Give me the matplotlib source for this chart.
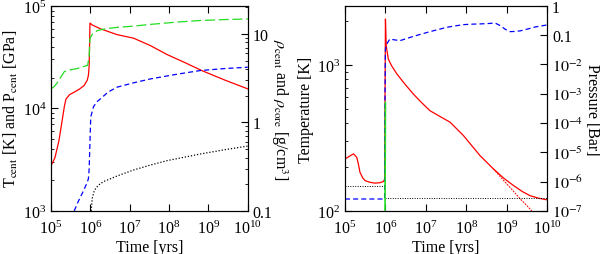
import numpy as np
import matplotlib.pyplot as plt
from matplotlib.ticker import LogFormatterMathtext, FixedLocator, FixedFormatter

plt.rcParams['font.family'] = ['Liberation Serif', 'DejaVu Serif']
plt.rcParams['mathtext.fontset'] = 'stix'
plt.rcParams['font.size'] = 11.5

# ---- left panel: central values (log10 of time in yrs) ----
lt_tc = [5.0, 5.1, 5.2, 5.29, 5.34, 5.38, 5.47, 5.59, 5.72, 5.84, 5.92, 5.95, 5.97, 5.99,
         6.05, 6.26, 6.68, 7.1, 7.53, 7.95, 8.4, 8.83, 9.4, 10.0]
t_cent = [2750, 3300, 4800, 7900, 10500, 12300, 13600, 14400, 15400, 16700, 18800, 21000, 26000, 68000,
          65000, 59700, 52400, 48400, 40900, 33500, 28000, 23400, 19000, 15500]

lt_pc = [5.0, 5.08, 5.17, 5.26, 5.34, 5.5, 5.67, 5.8, 5.93, 5.97, 5.99, 6.05, 6.18, 6.4, 6.68,
         7.1, 7.53, 8.2, 8.79, 9.4, 10.0]
p_cent = [15500, 16300, 18000, 20500, 22900, 23800, 24500, 25400, 26300, 32000, 48000, 53000, 57500, 60000, 61700,
          63500, 66000, 69500, 72000, 73500, 74600]

lt_rc = [5.59, 5.7, 5.8, 5.9, 5.95, 5.97, 5.99, 6.01, 6.08, 6.16, 6.26, 6.45, 6.68, 7.1, 7.53, 8.2, 8.79, 9.4, 10.0]
rho_cent = [0.1, 0.13, 0.16, 0.2, 0.23, 0.3, 0.6, 1.15, 1.5, 1.7, 1.85, 2.2, 2.5, 2.8, 3.1, 3.5, 3.85, 4.05, 4.2]

lt_rk = [6.02, 6.05, 6.1, 6.2, 6.34, 6.7, 7.1, 7.53, 7.95, 8.4, 8.8, 9.4, 10.0]
rho_core = [0.1, 0.14, 0.17, 0.195, 0.215, 0.25, 0.29, 0.33, 0.37, 0.405, 0.44, 0.49, 0.54]

# ---- right panel: atmosphere ----
lt_ta = [5.0, 5.1, 5.21, 5.29, 5.33, 5.37, 5.44, 5.5, 5.62, 5.74, 5.86, 5.95, 5.98, 5.99, 6.0,
         6.02, 6.07, 6.15, 6.28, 6.48, 6.69, 6.9, 7.1, 7.31, 7.6, 7.93, 8.34, 8.67, 8.92,
         9.17, 9.38, 9.58, 9.8, 10.0]
t_atm = [227, 236, 246, 233, 210, 184, 168, 161, 157, 155, 156, 159, 165, 600, 2065,
         1350, 1100, 990, 870, 740, 632, 550, 486, 450, 405, 328, 239, 194, 168,
         149, 136, 127, 122, 119]

lt_tb = [8.67, 8.85, 9.0, 9.17, 9.33, 9.48, 9.62]
t_alt = [194, 170, 153, 136, 121, 110, 100]

lt_pa = [5.0, 5.98, 5.99, 6.0, 6.05, 6.11, 6.2, 6.36, 6.5, 6.69, 6.9, 7.1, 7.3, 7.52, 7.75, 7.93,
         8.15, 8.34, 8.55, 8.71, 8.84, 8.96, 9.08, 9.2, 9.33, 9.5, 9.7, 10.0]
p_atm = [2.55e-7, 2.55e-7, 1e-3, 0.034, 0.055, 0.074, 0.07, 0.065, 0.075, 0.091, 0.11, 0.132, 0.155, 0.186, 0.21, 0.229,
         0.238, 0.242, 0.25, 0.26, 0.212, 0.16, 0.132, 0.134, 0.14, 0.16, 0.19, 0.224]

lt_pg = [5.99, 5.995, 6.0]
p_green = [1e-7, 1e-5, 5e-4]

lt_d1 = [5.0, 5.99]
t_d1 = [149, 149]
lt_d2 = [6.0, 10.0]
t_d2 = [122, 122]

fig = plt.figure(figsize=(6, 2.55), dpi=100)
ax1 = fig.add_axes([0.085, 0.169, 0.328, 0.804])
ax2 = fig.add_axes([0.575, 0.169, 0.337, 0.804])

xt = [1e5, 1e6, 1e7, 1e8, 1e9, 1e10]


def style(ax, **kw):
    ax.tick_params(which='both', direction='in', **kw)
    ax.tick_params(which='major', length=5)
    ax.tick_params(which='minor', length=2.5)


# left
ax1.plot(10**np.array(lt_tc), t_cent, color='red', lw=0.9)
ax1.plot(10**np.array(lt_pc), p_cent, color='#22dd22', lw=0.9, dashes=(8, 3))
ax1.set_xscale('log')
ax1.set_yscale('log')
ax1.set_xlim(1e5, 1e10)
ax1.set_ylim(1e3, 1e5)
ax1.set_xticks(xt)
ax1.xaxis.set_major_formatter(LogFormatterMathtext())
ax1.set_xlabel('Time [yrs]', labelpad=2)
ax1.set_ylabel(r'T$_{\rm cent}$ [K] and P$_{\rm cent}$ [GPa]', labelpad=2)
style(ax1, top=True, right=False)
ax1.tick_params(axis='x', pad=6)

ax1r = ax1.twinx()
ax1r.plot(10**np.array(lt_rc), rho_cent, color='blue', lw=0.9, dashes=(4, 2.5))
ax1r.plot(10**np.array(lt_rk), rho_core, color='black', lw=0.9, ls=(0, (1, 1.5)))
ax1r.set_yscale('log')
ax1r.set_ylim(0.1, 20.7)
ax1r.yaxis.set_major_locator(FixedLocator([0.1, 1, 10]))
ax1r.yaxis.set_major_formatter(FixedFormatter(['0.1', '1', '10']))
style(ax1r)
ax1r.set_ylabel(r'$\rho_{\rm cent}$ and $\rho_{\rm core}$ [g/cm$^3$]', rotation=270, labelpad=12)

# right
ax2.plot(10**np.array(lt_ta), t_atm, color='red', lw=0.9)
ax2.plot(10**np.array(lt_tb), t_alt, color='red', lw=0.7, ls=(0, (2, 1)))
ax2.plot(10**np.array(lt_d1), t_d1, color='black', lw=0.7, ls=(0, (1, 1.5)))
ax2.plot(10**np.array(lt_d2), t_d2, color='black', lw=0.7, ls=(0, (1, 1.5)))
ax2.set_xscale('log')
ax2.set_yscale('log')
ax2.set_xlim(1e5, 1e10)
ax2.set_ylim(1e2, 2540)
ax2.set_xticks(xt)
ax2.xaxis.set_major_formatter(LogFormatterMathtext())
ax2.set_xlabel('Time [yrs]', labelpad=2)
ax2.set_ylabel('Temperature [K]', labelpad=2)
style(ax2, top=True, right=False)
ax2.tick_params(axis='x', pad=6)

ax2r = ax2.twinx()
ax2r.plot(10**np.array(lt_pa), p_atm, color='blue', lw=0.9, dashes=(4, 2.5))
ax2r.plot(10**np.array(lt_pg), p_green, color='#22dd22', lw=1.2)
ax2r.set_yscale('log')
ax2r.set_ylim(1e-7, 1)
pt = [1e-7, 1e-6, 1e-5, 1e-4, 1e-3, 1e-2, 0.1, 1]
ax2r.yaxis.set_major_locator(FixedLocator(pt))
ax2r.yaxis.set_major_formatter(FixedFormatter([r'$10^{-7}$', r'$10^{-6}$', r'$10^{-5}$', r'$10^{-4}$',
                                               r'$10^{-3}$', r'$10^{-2}$', '0.1', '1']))
style(ax2r)
ax2r.set_ylabel('Pressure [Bar]', rotation=270, labelpad=12)

plt.savefig('out.png', dpi=100)
